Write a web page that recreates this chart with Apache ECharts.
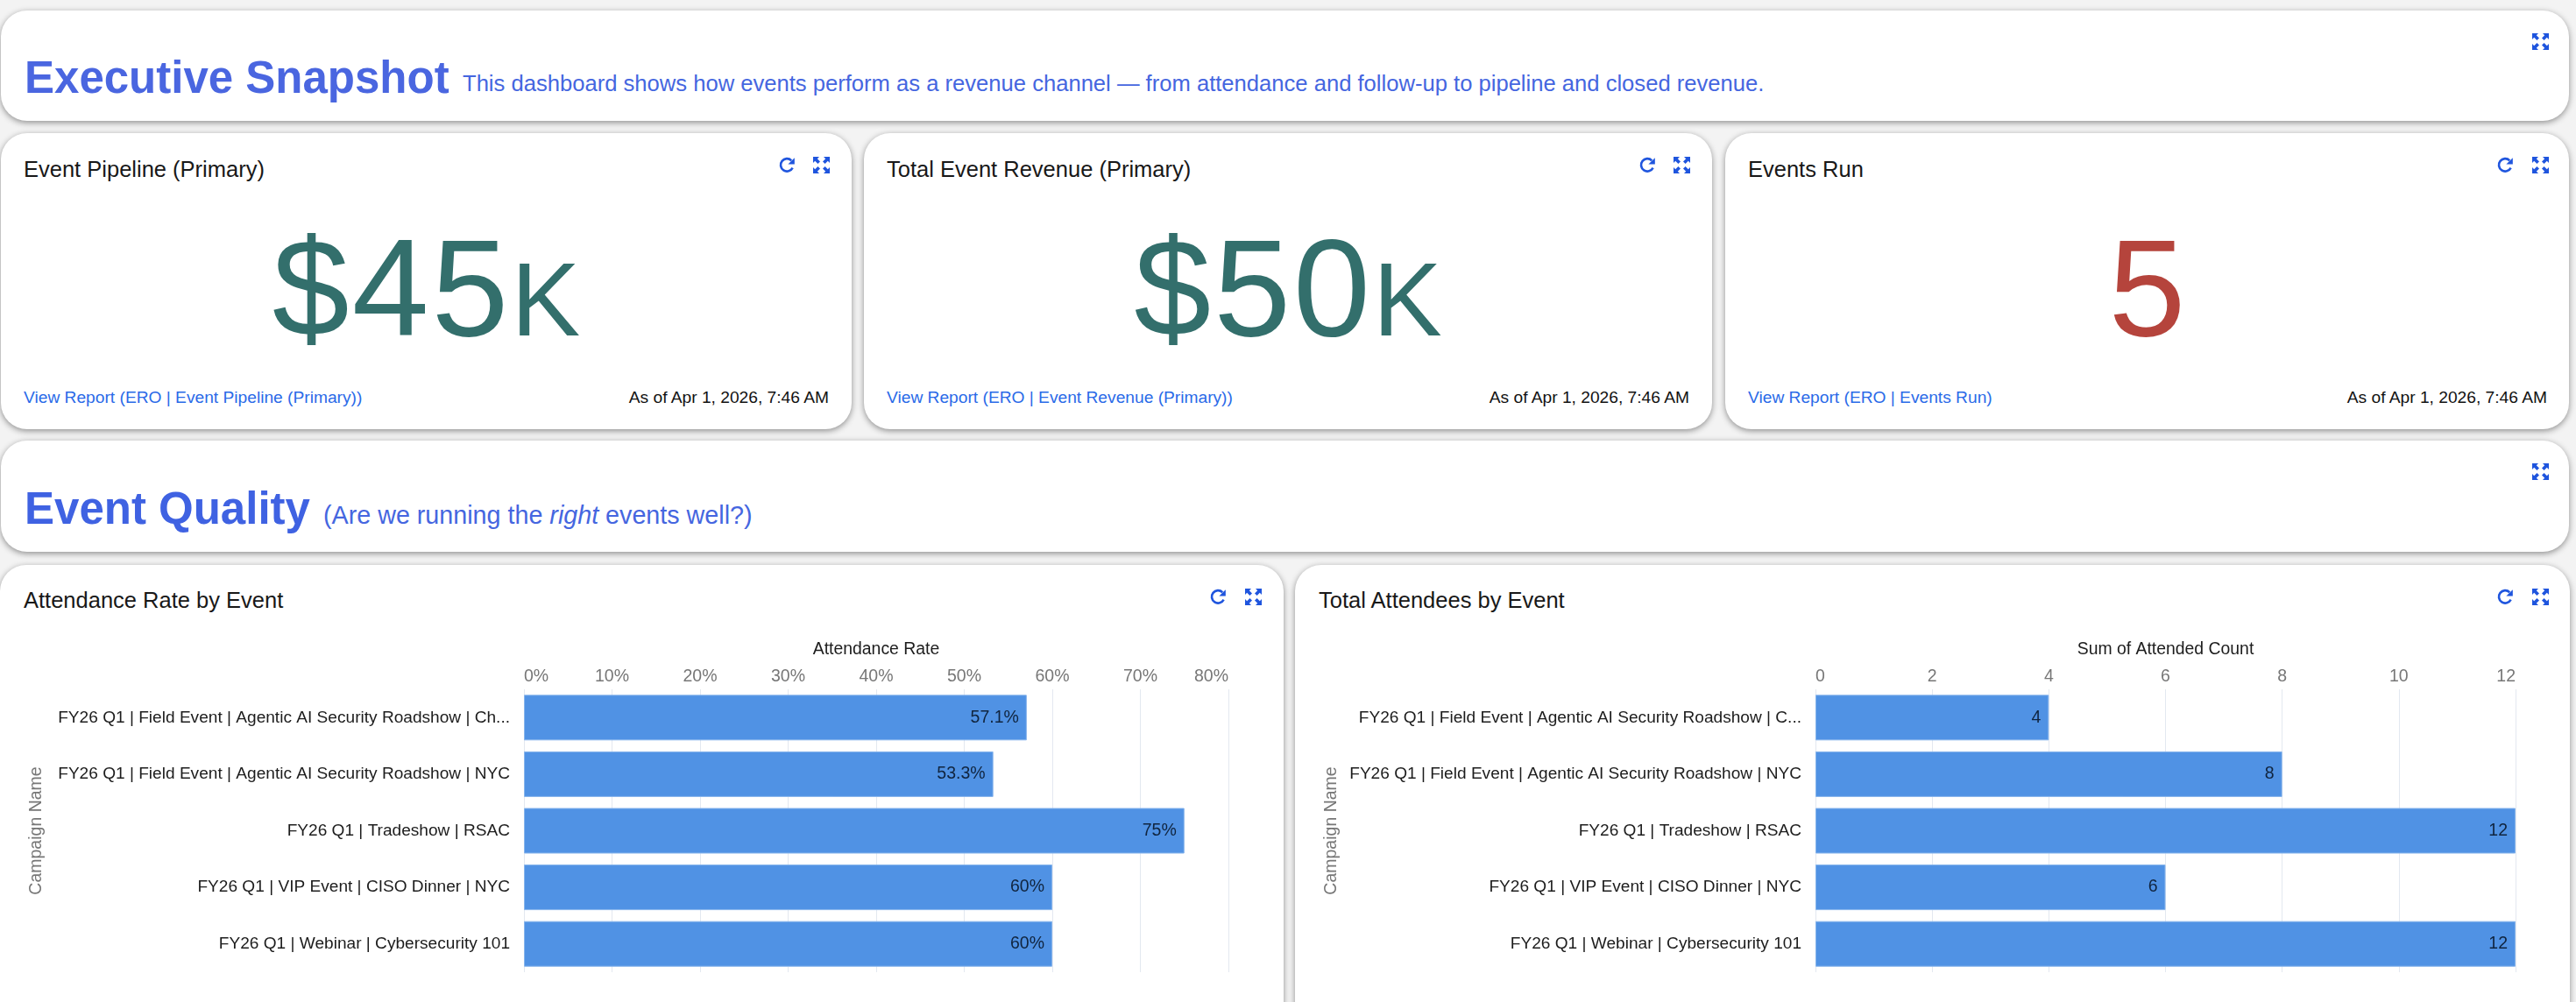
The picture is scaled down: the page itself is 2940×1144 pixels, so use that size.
<!DOCTYPE html>
<html>
<head>
    <title>Executive Snapshot</title>
    <script src="https://cdnjs.cloudflare.com/ajax/libs/echarts/6.0.0/echarts.min.js"></script>
    <style>
        html, body { margin: 0; padding: 0; width: 2940px; height: 1144px; overflow: hidden; background: #f3f3f3; }
        body { font-family: "Liberation Sans", Arial, sans-serif; position: relative; }
        .card { position: absolute; background: #fff; border-radius: 30px; box-shadow: 0 2px 7px rgba(0,0,0,.42); }
        .t { position: absolute; line-height: 1; white-space: nowrap; }
        .big-title { font-size: 51px; font-weight: bold; color: #3f62e2; left: 28px; }
        .sub-title { font-size: 25.6px; color: #4566e0; }
        .title { font-size: 25.5px; color: #181818; }
        .kpi { font-size: 158px; text-align: center; top: 249px; letter-spacing: 3px; }
        .kpi small { font-size: 118px; letter-spacing: 0; }
        .link { font-size: 19.2px; color: #2a6ae8; top: 444px; }
        .asof { font-size: 19.2px; color: #111; top: 444px; }
        .icon { position: absolute; width: 19px; height: 19px; }
        .chart { position: absolute; }
    </style>
</head>
<body>
    <div class="card" style="left:1px;top:12px;width:2931px;height:126px"></div>
    <div class="card" style="left:1px;top:152px;width:971px;height:338px"></div>
    <div class="card" style="left:986px;top:152px;width:968px;height:338px"></div>
    <div class="card" style="left:1969px;top:152px;width:963px;height:338px"></div>
    <div class="card" style="left:1px;top:503px;width:2931px;height:127px"></div>
    <div class="card" style="left:0;top:645px;width:1465px;height:560px"></div>
    <div class="card" style="left:1478px;top:645px;width:1455px;height:560px"></div>

    <div class="t big-title" style="top:63px;color:#4a66e0">Executive Snapshot</div>
    <div class="t sub-title" style="left:528px;top:83px">This dashboard shows how events perform as a revenue channel — from attendance and follow-up to pipeline and closed revenue.</div>

    <div class="t title" style="left:27px;top:181px" id="kpiTitle0"></div>
    <div class="t title" style="left:1012px;top:181px" id="kpiTitle1"></div>
    <div class="t title" style="left:1995px;top:181px" id="kpiTitle2"></div>

    <div class="t kpi" style="left:1px;width:971px;color:#336f6c" id="kpiValue0"></div>
    <div class="t kpi" style="left:986px;width:968px;color:#336f6c" id="kpiValue1"></div>
    <div class="t kpi" style="left:1969px;width:963px;color:#b5443c;letter-spacing:0" id="kpiValue2"></div>

    <div class="t link" style="left:27px" id="kpiLink0"></div>
    <div class="t link" style="left:1012px" id="kpiLink1"></div>
    <div class="t link" style="left:1995px" id="kpiLink2"></div>

    <div class="t asof" style="right:1994px" id="kpiAsOf0"></div>
    <div class="t asof" style="right:1012px" id="kpiAsOf1"></div>
    <div class="t asof" style="right:33px" id="kpiAsOf2"></div>

    <div class="t big-title" style="top:555px">Event Quality</div>
    <div class="t sub-title" style="left:369px;top:574px;font-size:28.7px">(Are we running the <i>right</i> events well?)</div>

    <div class="t title" style="left:27px;top:673px">Attendance Rate by Event</div>
    <div class="t title" style="left:1505px;top:673px">Total Attendees by Event</div>

    <div class="chart" id="rateChart" style="left:0;top:700px;width:1465px;height:444px"></div>
    <div class="chart" id="countChart" style="left:1478px;top:700px;width:1455px;height:444px"></div>

    <script>
        const kpiTitles = ['Event Pipeline (Primary)', 'Total Event Revenue (Primary)', 'Events Run'];
        const kpiNumbers = ['$45', '$50', '5'];
        const kpiSuffixes = ['K', 'K', ''];
        const kpiLinks = ['View Report (ERO | Event Pipeline (Primary))', 'View Report (ERO | Event Revenue (Primary))', 'View Report (ERO | Events Run)'];
        const asOfText = 'As of Apr 1, 2026, 7:46 AM';

        const rateCategories = [
            'FY26 Q1 | Field Event | Agentic AI Security Roadshow | Ch...',
            'FY26 Q1 | Field Event | Agentic AI Security Roadshow | NYC',
            'FY26 Q1 | Tradeshow | RSAC',
            'FY26 Q1 | VIP Event | CISO Dinner | NYC',
            'FY26 Q1 | Webinar | Cybersecurity 101'
        ];
        const rateValues = [57.1, 53.3, 75, 60, 60];

        const countCategories = [
            'FY26 Q1 | Field Event | Agentic AI Security Roadshow | C...',
            'FY26 Q1 | Field Event | Agentic AI Security Roadshow | NYC',
            'FY26 Q1 | Tradeshow | RSAC',
            'FY26 Q1 | VIP Event | CISO Dinner | NYC',
            'FY26 Q1 | Webinar | Cybersecurity 101'
        ];
        const countValues = [4, 8, 12, 6, 12];

        kpiTitles.forEach((text, i) => {
            document.getElementById('kpiTitle' + i).textContent = text;
            document.getElementById('kpiValue' + i).innerHTML = kpiNumbers[i] + (kpiSuffixes[i] ? '<small>' + kpiSuffixes[i] + '</small>' : '');
            document.getElementById('kpiLink' + i).textContent = kpiLinks[i];
            document.getElementById('kpiAsOf' + i).textContent = asOfText;
        });

        // icon centres on the page
        const refreshIcons = [[898, 188], [1880, 188], [2859, 188], [1390, 681], [2859, 681]];
        const expandIcons = [[2899, 47], [937, 188], [1919, 188], [2899, 188], [2899, 538], [1430, 681], [2899, 681]];
        const refreshSvg = '<svg viewBox="0 0 19 19" class="icon" style="left:{x}px;top:{y}px"><path d="M15.6 12.6A7.2 7.2 0 1 1 14.2 4.2" fill="none" stroke="#1f55de" stroke-width="2.6"/><path d="M17.8 1.2V8.6H10.4Z" fill="#1f55de"/></svg>';
        const expandSvg = '<svg viewBox="0 0 19 19" class="icon" style="left:{x}px;top:{y}px" fill="#1f55de" stroke="#1f55de"><path stroke="none" d="M0 0H7L4.8 2.2 8 5.4 5.4 8 2.2 4.8 0 7ZM19 0V7L16.8 4.8 13.6 8 11 5.4 14.2 2.2 12 0ZM0 19V12L2.2 14.2 5.4 11 8 13.6 4.8 16.8 7 19ZM19 19H12L14.2 16.8 11 13.6 13.6 11 16.8 14.2 19 12Z"/></svg>';
        function addIcons(list, svg) {
            list.forEach(p => {
                document.body.insertAdjacentHTML('beforeend', svg.replace('{x}', p[0] - 9.5).replace('{y}', p[1] - 9.5));
            });
        }
        addIcons(refreshIcons, refreshSvg);
        addIcons(expandIcons, expandSvg);

        function drawBars(id, opts) {
            const chart = echarts.init(document.getElementById(id));
            chart.setOption({
                animation: false,
                textStyle: { fontFamily: '"Liberation Sans", Arial, sans-serif' },
                grid: { left: opts.left, right: opts.right, top: 87, height: 323 },
                xAxis: {
                    type: 'value',
                    position: 'top',
                    min: 0,
                    max: opts.max,
                    interval: opts.interval,
                    name: opts.valueName,
                    nameLocation: 'middle',
                    nameGap: 36,
                    nameTextStyle: { fontSize: 19.4, color: '#1c1c1c' },
                    axisLine: { show: false },
                    axisTick: { show: false },
                    axisLabel: {
                        fontSize: 19.5,
                        color: '#777',
                        margin: 4,
                        alignMinLabel: 'left',
                        alignMaxLabel: 'right',
                        formatter: opts.tickFormat
                    },
                    splitLine: { show: true, lineStyle: { color: '#e3e8f0', width: 1 } }
                },
                yAxis: {
                    type: 'category',
                    inverse: true,
                    data: opts.categories,
                    name: 'Campaign Name',
                    nameLocation: 'middle',
                    nameRotate: 90,
                    nameGap: opts.nameGap,
                    nameTextStyle: { fontSize: 19.5, color: '#777' },
                    axisLine: { show: false },
                    axisTick: { show: false },
                    axisLabel: { fontSize: 19.1, color: '#1c1c1c', margin: 16, padding: [3, 0, 0, 0] }
                },
                series: [{
                    type: 'bar',
                    data: opts.values,
                    barWidth: 52,
                    itemStyle: { color: '#5092e4', borderColor: '#86b4ec', borderWidth: 1 },
                    label: {
                        show: true,
                        position: 'insideRight',
                        distance: 9,
                        fontSize: 19.5,
                        color: '#10243e',
                        formatter: opts.labelFormat
                    }
                }]
            });
            window.addEventListener('resize', () => chart.resize());
        }

        drawBars('rateChart', {
            categories: rateCategories,
            values: rateValues,
            left: 598,
            right: 63,
            max: 80,
            interval: 10,
            valueName: 'Attendance Rate',
            nameGap: 546,
            tickFormat: '{value}%',
            labelFormat: '{c}%'
        });

        drawBars('countChart', {
            categories: countCategories,
            values: countValues,
            left: 594,
            right: 62,
            max: 12,
            interval: 2,
            valueName: 'Sum of Attended Count',
            nameGap: 542,
            tickFormat: '{value}',
            labelFormat: '{c}'
        });
    </script>
</body>
</html>
